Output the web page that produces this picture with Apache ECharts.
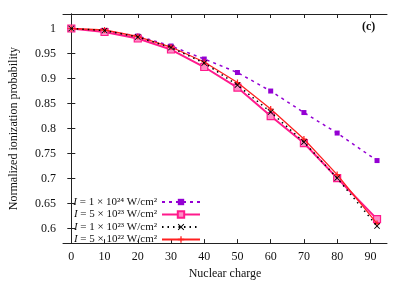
<!DOCTYPE html>
<html><head><meta charset="utf-8">
<script src="https://cdn.jsdelivr.net/npm/echarts@6/dist/echarts.min.js"></script>
<style>html,body{margin:0;padding:0;background:#fff}#c{width:407px;height:285px}</style>
</head><body><div id="c"></div>
<script>
const charges = [0, 10, 20, 30, 40, 50, 60, 70, 80, 92];
const p1e24 = [1, 0.995, 0.985, 0.965, 0.939, 0.912, 0.875, 0.832, 0.791, 0.736];
const p5e23 = [1, 0.993, 0.980, 0.958, 0.923, 0.882, 0.825, 0.771, 0.701, 0.619];
const p1e23 = [1, 0.996, 0.983, 0.962, 0.931, 0.887, 0.833, 0.773, 0.701, 0.605];
const p5e22 = [1, 0.997, 0.984, 0.963, 0.933, 0.892, 0.839, 0.779, 0.708, 0.610];
const xTicks = [0, 10, 20, 30, 40, 50, 60, 70, 80, 90];
const yTicks = [0.6, 0.65, 0.7, 0.75, 0.8, 0.85, 0.9, 0.95, 1];
const seriesNames = ['1e24', '5e23', '1e23', '5e22'];
const legendLabels = {
  '1e24': '{i|I} = 1 × 10²⁴ W/cm²',
  '5e23': '{i|I} = 5 × 10²³ W/cm²',
  '1e23': '{i|I} = 1 × 10²³ W/cm²',
  '5e22': '{i|I} = 5 × 10²² W/cm²'
};
const pair = (ys) => charges.map((x, i) => [x, ys[i]]);
const F = 'Liberation Serif';
const chart = echarts.init(document.getElementById('c'), null, {renderer: 'canvas'});
const axisCommon = {
  axisLine: {show: true, lineStyle: {color: '#222', width: 1}},
  splitLine: {show: false},
};
const xRange = {min: -2.5, max: 95};
const yRange = {min: 0.571, max: 1.029};
chart.setOption({
  animation: false,
  grid: {left: 62, right: 20, top: 14, bottom: 37},
  xAxis: [
    Object.assign({type: 'value', position: 'bottom', name: 'Nuclear charge', nameLocation: 'middle', nameGap: 24,
      nameTextStyle: {fontFamily: F, fontSize: 12, color: '#111'},
      axisTick: {show: true, inside: true, length: 4, customValues: xTicks, lineStyle: {color: '#222'}},
      axisLabel: {customValues: xTicks, fontFamily: F, fontSize: 12, color: '#111', margin: 8}
    }, xRange, axisCommon),
    Object.assign({type: 'value', position: 'top',
      axisTick: {show: true, inside: true, length: 4, customValues: xTicks, lineStyle: {color: '#222'}},
      axisLabel: {show: false}
    }, xRange, axisCommon)
  ],
  yAxis: [
    Object.assign({type: 'value', position: 'left', name: 'Normalized ionization probability', nameLocation: 'middle', nameGap: 43,
      nameRotate: 90,
      nameTextStyle: {fontFamily: F, fontSize: 12, color: '#111'},
      axisTick: {show: true, inside: true, length: 4, customValues: yTicks, lineStyle: {color: '#222'}},
      axisLabel: {customValues: yTicks, fontFamily: F, fontSize: 12, color: '#111', margin: 7}
    }, yRange, axisCommon),
    Object.assign({type: 'value', position: 'right',
      axisTick: {show: true, inside: true, length: 4, customValues: yTicks, lineStyle: {color: '#222'}},
      axisLabel: {show: false}
    }, yRange, axisCommon)
  ],
  legend: {
    orient: 'vertical', right: 206, top: 196, padding: 0, align: 'right', itemWidth: 38, itemHeight: 8, itemGap: 0.5,
    formatter: (n) => legendLabels[n],
    textStyle: {fontFamily: F, fontSize: 11, lineHeight: 12, color: '#111', padding: [0, 0, 0, 0],
      rich: {i: {fontFamily: F, fontSize: 11, lineHeight: 12, fontStyle: 'italic', color: '#111'}}},
    data: seriesNames
  },
  graphic: [{type: 'text', left: 362, top: 21, style: {text: '(c)', font: 'bold 12px "Liberation Serif"', fill: '#111'}}],
  series: [
    {name: '1e24', type: 'line', data: pair(p1e24), symbol: 'rect', symbolSize: 5,
      lineStyle: {color: '#9400d3', width: 1.5, type: [3, 4]}, itemStyle: {color: '#9400d3'}, z: 2},
    {name: '5e23', type: 'line', data: pair(p5e23), symbol: 'rect', symbolSize: 7,
      lineStyle: {color: '#ff1a8c', width: 2}, itemStyle: {color: '#ff8cc6', borderColor: '#ff1a8c', borderWidth: 1.2}, z: 3},
    {name: '1e23', type: 'line', data: pair(p1e23),
      symbol: 'path://M0,1L1,0L5,4L9,0L10,1L6,5L10,9L9,10L5,6L1,10L0,9L4,5Z', symbolSize: 6,
      lineStyle: {color: '#000', width: 1.5, type: [1.5, 4]}, itemStyle: {color: '#000'}, z: 5},
    {name: '5e22', type: 'line', data: pair(p5e22),
      symbol: 'path://M4,0H6V4H10V6H6V10H4V6H0V4H4Z', symbolSize: 6,
      lineStyle: {color: '#ff2020', width: 1.3}, itemStyle: {color: '#ff2020'}, z: 4}
  ]
});
</script></body></html>
